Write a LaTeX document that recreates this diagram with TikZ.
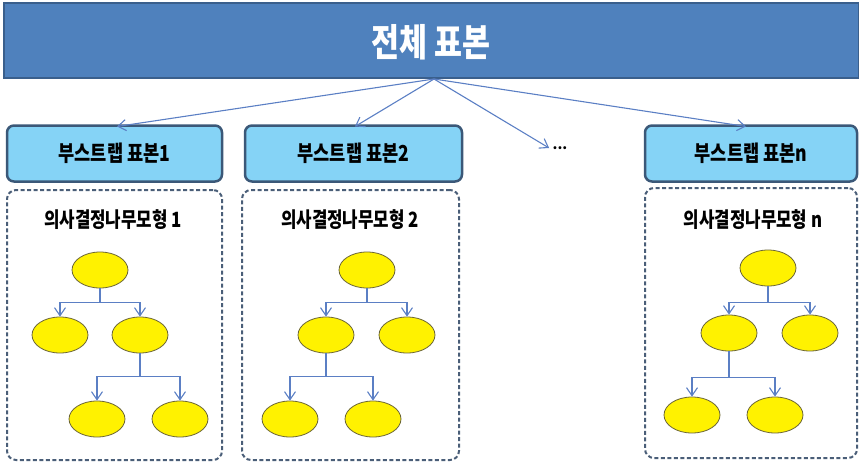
\documentclass[tikz,border=0pt]{standalone}
\usepackage{fontspec}
\setmainfont{Noto Sans CJK KR}
\usetikzlibrary{arrows.meta,shapes.geometric}
\definecolor{barfill}{HTML}{4F81BD}
\definecolor{barline}{HTML}{3A5F8C}
\definecolor{bsfill}{HTML}{85D3F6}
\definecolor{bsline}{HTML}{3B5878}
\definecolor{dashline}{HTML}{4A5E78}
\definecolor{linkc}{HTML}{5B7FC4}
\definecolor{nodefill}{HTML}{FFF200}
\definecolor{nodeline}{HTML}{6A6436}
\tikzset{
  topbar/.style={draw=barline, line width=2pt, fill=barfill, minimum width=855pt, minimum height=75pt, inner sep=0pt},
  bsbox/.style={draw=bsline, line width=2.5pt, fill=bsfill, rounded corners=7pt, minimum height=56pt, inner sep=0pt},
  treebox/.style={draw=dashline, line width=2pt, dash pattern=on 4pt off 2.5pt, rounded corners=9pt, minimum height=270pt, inner sep=0pt},
  leaf/.style={ellipse, draw=nodeline, line width=0.8pt, fill=nodefill, minimum width=56pt, minimum height=36pt, inner sep=0pt},
  link/.style={draw=linkc, line width=1.1pt, -{Straight Barb[length=8pt,width=11pt]}},
  bstext/.style={font=\fontsize{22}{24}\selectfont\bfseries},
  ttext/.style={font=\fontsize{21}{23}\selectfont\bfseries},
}
\newcommand{\cond}[1]{\scalebox{0.8}[1]{#1}}
\begin{document}
\begin{tikzpicture}[x=1pt,y=-1pt]
\useasboundingbox (0,0) rectangle (859,463);
% top bar
\node[topbar] (top) at (431.5,40.5) {};
\node[text=white, font=\fontsize{38}{40}\selectfont\bfseries] (toptxt) at (431,42) {\cond{전체 표본}};
% bootstrap boxes
\node[bsbox, minimum width=215pt] (b1) at (114.5,153.5) {};
\node[bsbox, minimum width=217pt] (b2) at (353.5,153.5) {};
\node[bsbox, minimum width=212pt] (bn) at (751,153.5) {};
\node[bstext] (b1t) at (b1) {\cond{부스트랩 표본1}};
\node[bstext] (b2t) at (b2) {\cond{부스트랩 표본2}};
\node[bstext] (bnt) at (bn) {\cond{부스트랩 표본n}};
\node[font=\fontsize{14}{14}\selectfont\bfseries] (dots) at (560,148) {...};
% arrows from top bar
\coordinate (apex) at (434,79);
\draw[link] (apex) -- (117,126.5);
\draw[link] (apex) -- (355,126.5);
\draw[link] (apex) -- (dots.west);
\draw[link] (apex) -- (746,126.5);
% dashed boxes
\node[treebox, minimum width=215pt] (d1) at (114.5,325) {};
\node[treebox, minimum width=217pt] (d2) at (350.5,325) {};
\node[treebox, minimum width=212pt] (dn) at (751,323) {};
\node[ttext] (d1t) at (113,220) {\cond{의사결정나무모형 1}};
\node[ttext] (d2t) at (350,220) {\cond{의사결정나무모형 2}};
\node[ttext] (dnt) at (753,220) {\cond{의사결정나무모형 n}};
% tree 1
\node[leaf] (r1) at (100,270) {};
\node[leaf] (a1) at (60,335) {};
\node[leaf] (c1) at (140,335) {};
\node[leaf] (e1) at (97,419) {};
\node[leaf] (f1) at (180,419) {};
\draw[link] (r1.south) -- ++(0,14) -| (a1.north);
\draw[link] (r1.south) -- ++(0,14) -| (c1.north);
\draw[link] (c1.south) -- ++(0,23) -| (e1.north);
\draw[link] (c1.south) -- ++(0,23) -| (f1.north);
% tree 2
\node[leaf] (r2) at (367,270) {};
\node[leaf] (a2) at (326,335) {};
\node[leaf] (c2) at (407,335) {};
\node[leaf] (e2) at (290,419) {};
\node[leaf] (f2) at (373,419) {};
\draw[link] (r2.south) -- ++(0,14) -| (a2.north);
\draw[link] (r2.south) -- ++(0,14) -| (c2.north);
\draw[link] (a2.south) -- ++(0,23) -| (e2.north);
\draw[link] (a2.south) -- ++(0,23) -| (f2.north);
% tree n
\node[leaf] (rn) at (768,268) {};
\node[leaf] (an) at (729,333) {};
\node[leaf] (cn) at (810,333) {};
\node[leaf] (en) at (692,415) {};
\node[leaf] (fn) at (775,415) {};
\draw[link] (rn.south) -- ++(0,16) -| (an.north);
\draw[link] (rn.south) -- ++(0,16) -| (cn.north);
\draw[link] (an.south) -- ++(0,26) -| (en.north);
\draw[link] (an.south) -- ++(0,26) -| (fn.north);
\end{tikzpicture}
\end{document}
